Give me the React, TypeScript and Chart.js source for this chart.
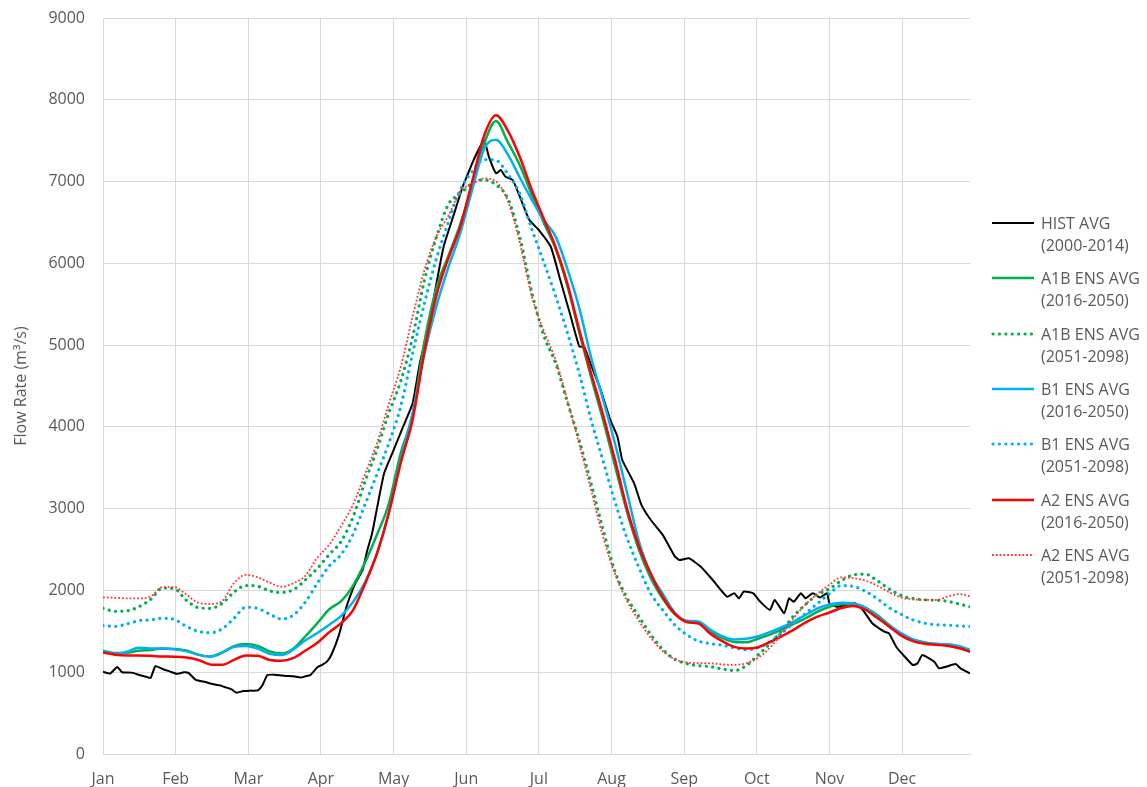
import { useEffect, useRef } from "react";
import { Chart, registerables } from "chart.js";

Chart.register(...registerables);

// ---------- axis / tick labels ----------
const monthLabels = ["Jan", "Feb", "Mar", "Apr", "May", "Jun", "Jul", "Aug", "Sep", "Oct", "Nov", "Dec"];
const DAYS_PER_TICK = 30.5;
const DAY_MAX = 364;
const yTitle = "Flow Rate (m³/s)";

// ---------- data ----------
const projDays = [
  0, 5, 10, 15, 20, 25, 30, 35, 40, 45,
  50, 55, 60, 65, 70, 75, 80, 85, 90, 95,
  100, 105, 110, 115, 120, 125, 130, 135, 140, 145,
  150, 155, 160, 165, 170, 175, 180, 185, 190, 195,
  200, 205, 210, 215, 220, 225, 230, 235, 240, 245,
  250, 255, 260, 265, 270, 275, 280, 285, 290, 295,
  300, 305, 310, 315, 320, 325, 330, 335, 340, 345,
  350, 355, 360, 364,
];

const histDays = [
  0, 3, 6, 8, 12, 16, 18, 20, 22, 25, 28, 31, 34, 36, 39, 43, 46, 49, 51, 54,
  56, 59, 62, 65, 67, 69, 72, 75, 77, 80, 83, 85, 87, 90, 92, 94, 96, 99, 102, 104,
  106, 109, 111, 113, 115, 118, 122, 126, 130, 133, 137, 140, 143, 147, 151, 153, 155, 157, 160, 162,
  165, 167, 169, 172, 175, 179, 183, 188, 192, 196, 200, 202, 205, 209, 213, 216, 218, 223, 226, 230,
  235, 240, 242, 246, 251, 256, 262, 265, 267, 269, 273, 276, 280, 282, 286, 288, 290, 293, 295, 298,
  301, 304, 305, 308, 312, 316, 319, 323, 328, 330, 333, 336, 340, 342, 344, 349, 351, 354, 358, 360,
  364,
];
const histFlow = [
  1005, 985, 1065, 1000, 995, 960, 945, 930, 1075, 1040, 1010, 980, 1000, 990, 905, 880, 855, 840, 820, 790,
  750, 770, 775, 778, 845, 965, 970, 960, 955, 950, 935, 950, 965, 1060, 1090, 1130, 1220, 1450, 1780, 1950,
  2090, 2250, 2495, 2700, 3000, 3430, 3717, 4002, 4288, 4777, 5266, 5755, 6203, 6570, 6937, 7080, 7223, 7350, 7508, 7304,
  7100, 7141, 7059, 7019, 6815, 6530, 6407, 6203, 5796, 5389, 4981, 4981, 4750, 4451, 4084, 3880, 3595, 3310, 3050, 2861,
  2680, 2420, 2372, 2393, 2290, 2128, 1923, 1965, 1904, 1985, 1965, 1860, 1761, 1883, 1720, 1904, 1862, 1965, 1904, 1965,
  1915, 1965, 1842, 1801, 1822, 1842, 1761, 1598, 1496, 1475, 1312, 1210, 1088, 1109, 1210, 1129, 1048, 1068, 1100, 1048,
  987,
];

const a1bNear = [
  1260, 1235, 1238, 1262, 1272, 1290, 1285, 1265, 1215, 1192,
  1240, 1320, 1345, 1320, 1255, 1230, 1290, 1440, 1600, 1770,
  1870, 2060, 2340, 2680, 3060, 3680, 4150, 5050, 5700, 6090,
  6480, 6950, 7460, 7740, 7480, 7200, 6840, 6500, 6180, 5720,
  5150, 4600, 4080, 3520, 2960, 2500, 2150, 1900, 1710, 1625,
  1610, 1500, 1420, 1370, 1365, 1410, 1460, 1520, 1590, 1660,
  1740, 1800, 1830, 1830, 1790, 1700, 1580, 1470, 1400, 1365,
  1345, 1340, 1305, 1265,
];
const a1bFar = [
  1781, 1745, 1750, 1800, 1890, 2030, 2020, 1880, 1790, 1780,
  1840, 1980, 2060, 2050, 1995, 1975, 2010, 2130, 2270, 2440,
  2600, 2900, 3330, 3720, 4170, 4560, 5100, 5800, 6320, 6720,
  6850, 6980, 7020, 6960, 6790, 6320, 5650, 5120, 4780, 4300,
  3830, 3300, 2740, 2230, 1910, 1680, 1460, 1280, 1160, 1105,
  1080, 1068, 1040, 1020, 1080, 1210, 1350, 1510, 1690, 1830,
  1950, 2020, 2120, 2190, 2200, 2120, 2020, 1940, 1900, 1885,
  1880, 1865, 1830, 1800,
];
const b1Near = [
  1263, 1225, 1250, 1300, 1290, 1290, 1280, 1260, 1212, 1192,
  1240, 1310, 1322, 1290, 1225, 1210, 1280, 1390, 1480, 1580,
  1690, 1860, 2100, 2450, 2950, 3590, 4170, 4900, 5480, 5950,
  6370, 6900, 7400, 7510, 7330, 7050, 6780, 6530, 6330, 5930,
  5450, 4840, 4330, 3790, 3200, 2600, 2200, 1960, 1730, 1630,
  1620, 1520, 1440, 1400, 1410, 1440, 1490, 1550, 1620, 1700,
  1780, 1830, 1850, 1840, 1790, 1680, 1570, 1480, 1400, 1360,
  1345, 1340, 1315, 1272,
];
const b1Far = [
  1570, 1560, 1590, 1630, 1640, 1660, 1645, 1560, 1500, 1483,
  1530, 1660, 1795, 1780, 1710, 1650, 1700, 1860, 2090, 2300,
  2440, 2690, 3050, 3420, 3800, 4250, 4900, 5520, 6060, 6500,
  6900, 7120, 7270, 7260, 7090, 6850, 6420, 6020, 5600, 5150,
  4650, 4080, 3580, 3080, 2640, 2280, 1960, 1760, 1580, 1460,
  1380, 1350, 1330, 1300, 1275, 1300, 1370, 1480, 1600, 1720,
  1840, 1960, 2060, 2050, 1990, 1900, 1790, 1710, 1640, 1600,
  1580, 1575, 1565, 1557,
];
const a2Near = [
  1240, 1215, 1205, 1205, 1200, 1192, 1190, 1180, 1150, 1095,
  1090, 1150, 1205, 1200, 1150, 1140, 1175, 1265, 1360, 1490,
  1600, 1760, 2080, 2450, 2950, 3560, 4090, 4930, 5610, 6060,
  6450, 7000, 7560, 7810, 7620, 7300, 6900, 6550, 6200, 5750,
  5180, 4650, 4140, 3590, 3000, 2540, 2200, 1920, 1720, 1615,
  1595, 1470, 1380, 1310, 1290, 1305, 1370, 1440, 1520, 1610,
  1680, 1730, 1785, 1810, 1765, 1665, 1560, 1450, 1380, 1348,
  1335, 1320, 1290, 1250,
];
const a2Far = [
  1916, 1910, 1904, 1904, 1925, 2040, 2040, 1950, 1850, 1835,
  1870, 2090, 2190, 2160, 2095, 2045, 2090, 2180, 2400, 2560,
  2790, 3050, 3420, 3800, 4280, 4730, 5350, 5920, 6330, 6580,
  6880, 6970, 7040, 7000, 6760, 6250, 5600, 5180, 4820, 4320,
  3780, 3220, 2650, 2200, 1870, 1630, 1420, 1260, 1160, 1120,
  1110, 1109, 1095, 1090, 1110, 1175, 1300, 1470, 1665, 1830,
  1960, 2070, 2160, 2150, 2120, 2060, 1980, 1915, 1890, 1885,
  1883, 1930, 1955, 1925,
];

// ---------- series styling ----------
type Style = "solid" | "dots" | "fine";
const series: { label: string[]; days: number[]; values: number[]; color: string; style: Style; width: number }[] = [
  { label: ["HIST AVG", "(2000-2014)"], days: histDays, values: histFlow, color: "#000000", style: "solid", width: 2 },
  { label: ["A1B ENS AVG", "(2016-2050)"], days: projDays, values: a1bNear, color: "#00B050", style: "solid", width: 2.5 },
  { label: ["A1B ENS AVG", "(2051-2098)"], days: projDays, values: a1bFar, color: "#00B050", style: "dots", width: 3.2 },
  { label: ["B1 ENS AVG", "(2016-2050)"], days: projDays, values: b1Near, color: "#00B0F0", style: "solid", width: 2.5 },
  { label: ["B1 ENS AVG", "(2051-2098)"], days: projDays, values: b1Far, color: "#00B0F0", style: "dots", width: 3.2 },
  { label: ["A2 ENS AVG", "(2016-2050)"], days: projDays, values: a2Near, color: "#FF0000", style: "solid", width: 2.5 },
  { label: ["A2 ENS AVG", "(2051-2098)"], days: projDays, values: a2Far, color: "#FF3333", style: "fine", width: 1.8 },
];

const FONT = "'Open Sans', 'DejaVu Sans', sans-serif";
const TEXT = "#595959";
const GRID = "#D9D9D9";

function dashFor(style: Style): number[] {
  if (style === "dots") return [0.1, 6.3];
  if (style === "fine") return [1.8, 2];
  return [];
}

function LegendSample({ color, style, width }: { color: string; style: Style; width: number }) {
  const dash = style === "dots" ? "0.1 6.3" : style === "fine" ? "1.8 2" : undefined;
  return (
    <svg width={44} height={8} style={{ position: "absolute", left: 991, top: -4 }}>
      <line
        x1={style === "dots" ? 2 : 1}
        y1={4}
        x2={43}
        y2={4}
        stroke={color}
        strokeWidth={width}
        strokeDasharray={dash}
        strokeLinecap={style === "dots" ? "round" : "butt"}
      />
    </svg>
  );
}

export default function App() {
  const ref = useRef<HTMLCanvasElement>(null);

  useEffect(() => {
    if (!ref.current) return;
    const chart = new Chart(ref.current, {
      type: "line",
      data: {
        datasets: series.map((s, i) => ({
          label: s.label.join(" "),
          data: s.days.map((d, k) => ({ x: d, y: s.values[k] })),
          borderColor: s.color,
          backgroundColor: s.color,
          borderWidth: s.width,
          borderDash: dashFor(s.style),
          borderCapStyle: s.style === "dots" ? "round" : "butt",
          borderJoinStyle: "round",
          pointRadius: 0,
          pointHoverRadius: 0,
          fill: false,
          tension: i === 0 ? 0.15 : 0.4,
          cubicInterpolationMode: i === 0 ? "default" : "monotone",
          order: series.length - i,
        })) as any,
      },
      options: {
        responsive: false,
        animation: false,
        events: [],
        layout: { padding: { top: 18, right: 177, left: 0, bottom: 0 } },
        plugins: { legend: { display: false }, tooltip: { enabled: false } },
        scales: {
          x: {
            type: "linear",
            min: 0,
            max: DAY_MAX,
            afterBuildTicks: (scale: any) => {
              scale.ticks = monthLabels.map((_, i) => ({ value: i * DAYS_PER_TICK }));
            },
            afterFit: (scale: any) => {
              scale.height = 33;
            },
            ticks: {
              autoSkip: false,
              maxRotation: 0,
              padding: 16,
              color: TEXT,
              font: { family: FONT, size: 16 },
              callback: (_v: any, i: number) => monthLabels[i],
            },
            grid: { color: GRID, lineWidth: 1, drawTicks: false },
            border: { color: GRID, width: 1 },
          },
          y: {
            min: 0,
            max: 9000,
            afterFit: (scale: any) => {
              scale.width = 103;
              scale.paddingTop = 0;
              scale.paddingBottom = 0;
            },
            ticks: {
              stepSize: 1000,
              padding: 18,
              color: TEXT,
              font: { family: FONT, size: 16 },
              callback: (v: any) => String(v),
            },
            title: {
              display: true,
              text: yTitle,
              color: TEXT,
              font: { family: FONT, size: 16 },
              padding: { top: 12, bottom: 0 },
            },
            grid: { color: GRID, lineWidth: 1, drawTicks: false },
            border: { color: GRID, width: 1 },
          },
        },
      },
    });
    return () => chart.destroy();
  }, []);

  return (
    <div
      style={{
        position: "fixed",
        left: 0,
        top: 0,
        width: 1147,
        height: 787,
        background: "#ffffff",
        overflow: "hidden",
      }}
    >
      <canvas ref={ref} width={1147} height={787} style={{ position: "absolute", left: 0, top: 0 }} />
      {series.map((s, i) => {
        const cy = 223 + i * 55.3;
        return (
          <div key={i} style={{ position: "absolute", left: 0, top: cy, width: 1147, height: 0 }}>
            <LegendSample color={s.color} style={s.style} width={s.width} />
            <div
              style={{
                position: "absolute",
                left: 1041,
                top: -11,
                fontFamily: FONT,
                fontSize: 16,
                lineHeight: "22px",
                color: TEXT,
                whiteSpace: "nowrap",
              }}
            >
              {s.label.map((t, k) => (
                <div key={k}>{t}</div>
              ))}
            </div>
          </div>
        );
      })}
    </div>
  );
}
